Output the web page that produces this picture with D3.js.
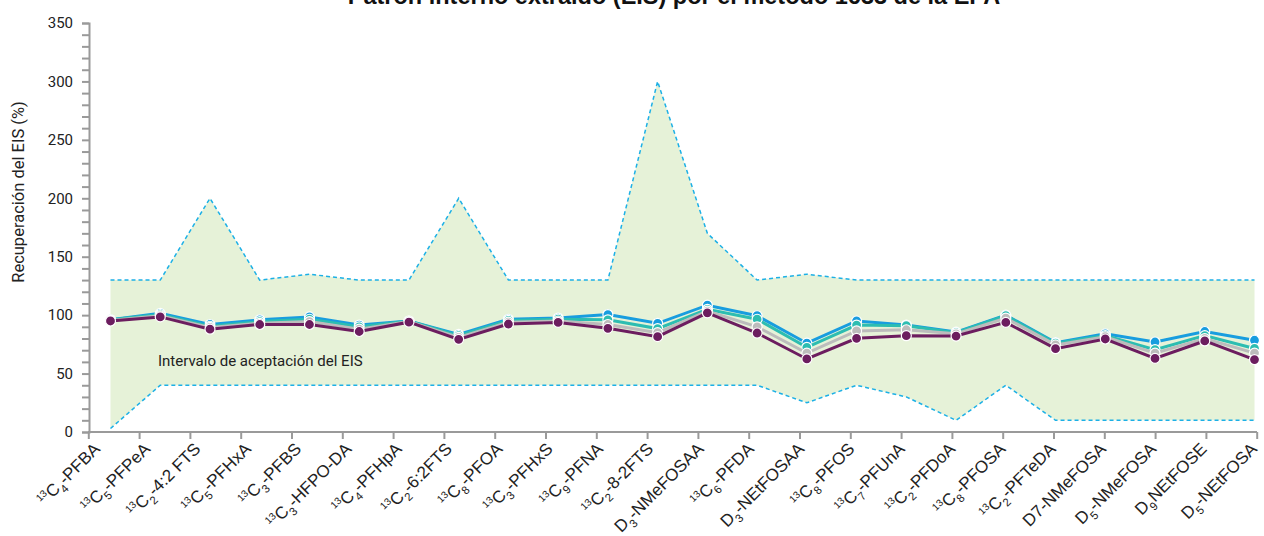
<!DOCTYPE html>
<html>
<head>
<meta charset="utf-8">
<script src="https://cdn.jsdelivr.net/npm/d3@7"></script>
<style>
  body { margin: 0; background: #fff; }
  svg { display: block; font-family: Roboto, "Noto Sans", sans-serif; }
</style>
</head>
<body>
<svg id="chart"></svg>
<script>
// category labels: ^ = superscript digits, _ = one subscript char
const labels = [
  '^13C_4-PFBA', '^13C_5-PFPeA', '^13C_2-4:2 FTS', '^13C_5-PFHxA', '^13C_3-PFBS',
  '^13C_3-HFPO-DA', '^13C_4-PFHpA', '^13C_2-6:2FTS', '^13C_8-PFOA', '^13C_3-PFHxS',
  '^13C_9-PFNA', '^13C_2-8-2FTS', 'D_3-NMeFOSAA', '^13C_6-PFDA', 'D_3-NEtFOSAA',
  '^13C_8-PFOS', '^13C_7-PFUnA', '^13C_2-PFDoA', '^13C_8-PFOSA', '^13C_2-PFTeDA',
  'D7-NMeFOSA', 'D_5-NMeFOSA', 'D_9NEtFOSE', 'D_5-NEtFOSA'
]

// acceptance interval
const upperLimit = [130,130,200,130,135,130,130,200,130,130,130,300,170,130,135,130,130,130,130,130,130,130,130,130]
const lowerLimit = [3,40,40,40,40,40,40,40,40,40,40,40,40,40,25,40,30,10,40,10,10,10,10,10]

// recoveries (%)
const serieBlue   = [96,101.5,92,96,98.5,91.5,95,83.5,96.5,97.5,100.5,93,108.5,99.5,76,95,91.5,85.5,100,76.5,84,77,86,78.5]
const serieTeal   = [96,100.5,90.5,94.5,96.5,90,95,82.5,95.5,96.5,96,88.5,105,96.5,72.5,91.5,91,85,99.5,76,82.5,70.5,82.5,71.5]
const serieGray   = [95.5,99.5,89.5,93,94.5,88,94.5,81,94,95,92,85,103.5,90,67.5,86.5,87.5,84,97.5,74.5,81.5,67.5,80,67.5]
const seriePurple = [95,98.5,88,92,92,86,94,79.3,92.4,93.8,88.7,81.6,102,84.7,62.5,80.2,82.4,82.1,93.8,71.3,79.6,63,77.9,62]

const yTicks = [0, 50, 100, 150, 200, 250, 300, 350]
const title = 'Patrón interno extraído (EIS) por el método 1633 de la EPA'
const yTitle = 'Recuperación del EIS (%)'
const bandText = 'Intervalo de aceptación del EIS'

const width = 1264, height = 536
const svg = d3.select('#chart').attr('width', width).attr('height', height)

const idx = d3.range(labels.length)
const x = d3.scalePoint().domain(idx).range([110.5, 1254.5])
const xTick = d3.scalePoint().domain(idx).range([88.3, 1256.7])
const xLabel = d3.scalePoint().domain(idx).range([101, 1258])
const y = d3.scaleLinear().domain([0, 350]).range([432, 23])

// acceptance band
const area = d3.area()
  .x(i => x(i))
  .y0(i => y(lowerLimit[i]))
  .y1(i => y(upperLimit[i]))
svg.append('path')
  .attr('d', area(idx))
  .attr('fill', '#e6f2d8')

const limitLine = arr => d3.line().x(i => x(i)).y(i => y(arr[i]))(idx)
;[upperLimit, lowerLimit].forEach(arr => {
  svg.append('path')
    .attr('d', limitLine(arr))
    .attr('fill', 'none')
    .attr('stroke', '#1cb0e6')
    .attr('stroke-width', 1.5)
    .attr('stroke-dasharray', '4,3')
})

svg.append('text')
  .attr('x', 158).attr('y', 366)
  .attr('font-size', 15)
  .attr('fill', '#222')
  .text(bandText)

// y axis
const yAxis = d3.axisLeft(y)
  .tickValues(d3.range(0, 351, 10))
  .tickSize(7)
  .tickFormat(d => yTicks.includes(d) ? d : '')
const gy = svg.append('g').attr('transform', 'translate(89,0)').call(yAxis)
gy.select('.domain').attr('stroke', '#9a9a9a').attr('stroke-width', 2)
gy.selectAll('.tick line').attr('stroke', '#9a9a9a').attr('stroke-width', 2)
gy.selectAll('.tick text')
  .attr('x', -16)
  .attr('font-size', 15)
  .attr('font-family', 'Roboto, sans-serif')
  .attr('fill', '#222')

// x axis
const xAxis = d3.axisBottom(xTick).tickSize(7).tickSizeOuter(0).tickFormat('')
const gx = svg.append('g').attr('transform', 'translate(0,432)').call(xAxis)
gx.select('.domain').attr('stroke', '#9a9a9a').attr('stroke-width', 2)
  .attr('d', 'M88,0H1257')
gx.selectAll('.tick line').attr('stroke', '#9a9a9a').attr('stroke-width', 2)

// rotated labels with sub/superscripts; shifts carried to the next piece
function addLabel(g, str) {
  let k = 0, shift = 0
  const piece = (txt, size, off) => {
    const t = g.append('tspan').attr('dy', off - shift).text(txt)
    if (size) t.attr('font-size', size)
    shift = off
  }
  while (k < str.length) {
    if (str[k] === '^') {
      let j = k + 1
      while (j < str.length && /\d/.test(str[j])) j++
      piece(str.slice(k + 1, j), 10, -6.5)
      k = j
    } else if (str[k] === '_') {
      piece(str[k + 1], 11.5, 5.5)
      k += 2
    } else {
      let j = k
      while (j < str.length && str[j] !== '^' && str[j] !== '_') j++
      piece(str.slice(k, j), null, 0)
      k = j
    }
  }
}
idx.forEach(i => {
  const t = svg.append('text')
    .attr('transform', `translate(${xLabel(i)},450) rotate(-45)`)
    .attr('text-anchor', 'end')
    .attr('font-family', '"Liberation Sans", Arial, sans-serif')
    .attr('font-size', 17)
    .attr('fill', '#222')
  addLabel(t, labels[i])
})

// series
const series = [
  {values: serieBlue, color: '#189ddf'},
  {values: serieTeal, color: '#2dbdb1'},
  {values: serieGray, color: '#bcbcbc'},
  {values: seriePurple, color: '#6c1d5f'}
]
series.forEach(s => {
  svg.append('path')
    .attr('d', d3.line().x((d, i) => x(i)).y(d => y(d))(s.values))
    .attr('fill', 'none')
    .attr('stroke', s.color)
    .attr('stroke-width', 3)
  svg.append('g').selectAll('circle')
    .data(s.values)
    .join('circle')
    .attr('cx', (d, i) => x(i))
    .attr('cy', d => y(d))
    .attr('r', 5)
    .attr('fill', s.color)
    .attr('stroke', '#fff')
    .attr('stroke-width', 1.2)
})

// titles
svg.append('text')
  .attr('x', 674).attr('y', 4)
  .attr('text-anchor', 'middle')
  .attr('font-family', '"Liberation Sans", Arial, sans-serif')
  .attr('font-weight', 'bold')
  .attr('font-size', 23.5)
  .attr('fill', '#111')
  .text(title)

svg.append('text')
  .attr('transform', 'translate(24,192) rotate(-90)')
  .attr('text-anchor', 'middle')
  .attr('font-size', 16.5)
  .attr('fill', '#222')
  .text(yTitle)
</script>
</body>
</html>
